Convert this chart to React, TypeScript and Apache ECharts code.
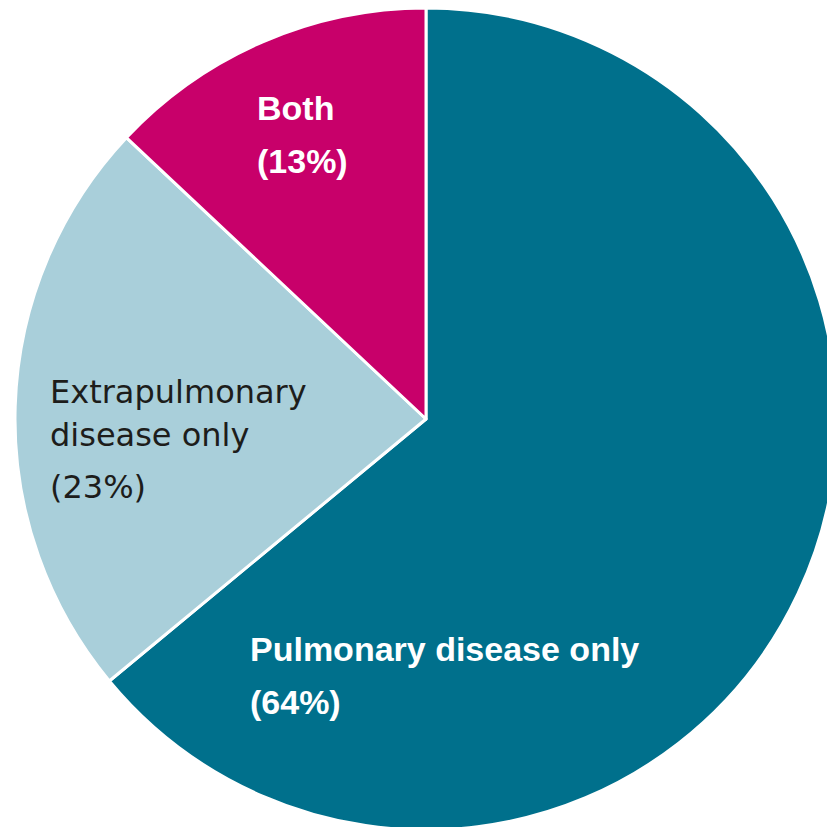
import React, { useEffect, useRef } from "react";
import * as echarts from "echarts";

const categories = ["Pulmonary disease only", "Extrapulmonary disease only", "Both"];
const values = [64, 23, 13];
const colors = ["#00708C", "#A9CFDA", "#C8006A"];
const labelLines = [
  ["Pulmonary disease only", "(64%)"],
  ["Extrapulmonary", "disease only", "(23%)"],
  ["Both", "(13%)"],
];
const labelColors = ["#ffffff", "#1d1d1b", "#ffffff"];

export default function App() {
  const ref = useRef<HTMLDivElement>(null);
  useEffect(() => {
    const chart = echarts.init(ref.current!, null, { renderer: "svg" });
    const layout = [
      { x: 250, ys: [632, 685], font: 'bold 34px "Liberation Sans", Arial, sans-serif' },
      { x: 50, ys: [376, 419, 471], font: '32px "DejaVu Sans", sans-serif' },
      { x: 257, ys: [91, 144], font: 'bold 34px "Liberation Sans", Arial, sans-serif' },
    ];
    const graphic: any[] = [];
    labelLines.forEach((lines, i) => {
      lines.forEach((t, j) => {
        graphic.push({
          type: "text",
          x: layout[i].x,
          y: layout[i].ys[j],
          style: {
            text: t,
            fill: labelColors[i],
            font: layout[i].font,
            textVerticalAlign: "top",
          },
          z: 10,
        });
      });
    });
    chart.setOption({
      animation: false,
      series: [
        {
          type: "pie",
          center: [426, 419],
          radius: [0, 411],
          startAngle: 90,
          clockwise: true,
          label: { show: false },
          labelLine: { show: false },
          itemStyle: { borderColor: "#ffffff", borderWidth: 3 },
          emphasis: { disabled: true },
          data: categories.map((c, i) => ({
            name: c,
            value: values[i],
            itemStyle: { color: colors[i] },
          })),
        },
      ],
      graphic,
    });
    return () => chart.dispose();
  }, []);
  return (
    <div
      ref={ref}
      style={{ position: "fixed", left: 0, top: 0, width: 827, height: 827, background: "#fff" }}
    />
  );
}
